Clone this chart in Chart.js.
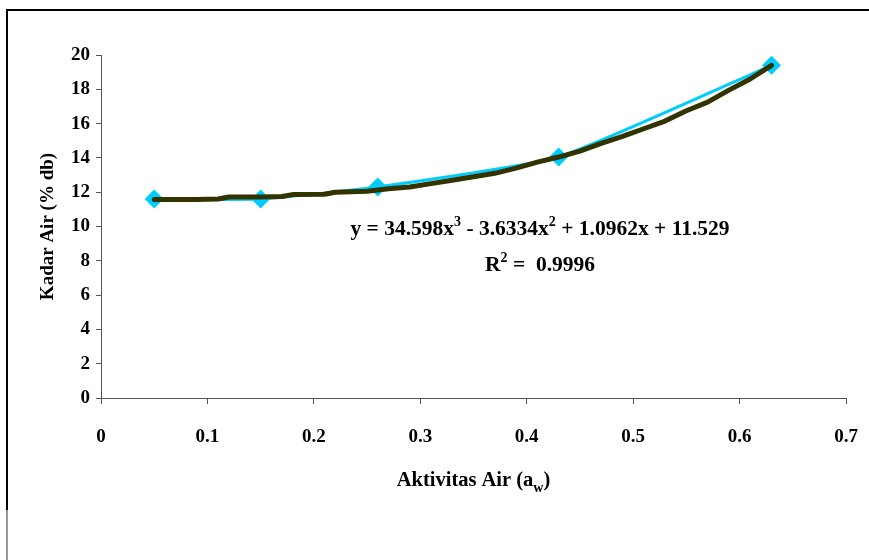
<!DOCTYPE html>
<html>
<head>
<meta charset="utf-8">
<script src="https://cdn.jsdelivr.net/npm/chart.js@4"></script>
<style>
  html, body { margin: 0; padding: 0; background: #fff; }
  #wrap { width: 869px; height: 560px; }
</style>
</head>
<body>
<div id="wrap"><canvas id="isoChart" width="869" height="560"></canvas></div>
<script>
// measured points (water activity vs moisture content)
var aw = [0.05, 0.15, 0.26, 0.43, 0.63];
var kadarAir = [11.6, 11.6, 12.3, 14.05, 19.4];

// polynomial trendline
var trendX = [0.05, 0.07, 0.09, 0.11, 0.12, 0.15, 0.17, 0.18, 0.21, 0.22, 0.25, 0.27, 0.29, 0.31, 0.33,
              0.35, 0.37, 0.39, 0.41, 0.43, 0.45, 0.47, 0.49, 0.51, 0.53, 0.55, 0.57, 0.59, 0.61, 0.63];
var trendY = [11.58, 11.58, 11.58, 11.6, 11.72, 11.72, 11.75, 11.86, 11.88, 12.0, 12.05, 12.2, 12.3, 12.5, 12.7,
              12.9, 13.1, 13.4, 13.75, 14.05, 14.4, 14.85, 15.25, 15.7, 16.15, 16.75, 17.25, 17.95, 18.6, 19.4];

var xTicks = [0, 0.1, 0.2, 0.3, 0.4, 0.5, 0.6, 0.7];
var yTicks = [0, 2, 4, 6, 8, 10, 12, 14, 16, 18, 20];

var FONT = "'Liberation Serif', 'Times New Roman', serif";

function pts(xs, ys) {
    var out = [];
    for (var i = 0; i < xs.length; i++) out.push({x: xs[i], y: ys[i]});
    return out;
}

// outer frame (only top and left edges visible in the original)
var framePlugin = {
    id: 'frame',
    beforeDraw: function(chart) {
        var c = chart.ctx;
        c.save();
        c.strokeStyle = '#000';
        c.lineWidth = 2;
        c.beginPath();
        c.moveTo(869, 10);
        c.lineTo(7, 10);
        c.lineTo(7, 510);
        c.stroke();
        c.strokeStyle = '#999';
        c.beginPath();
        c.moveTo(7, 510);
        c.lineTo(7, 560);
        c.stroke();
        c.restore();
    }
};

// draw a run of text pieces, some raised or lowered
function drawRun(c, parts, cx, cy) {
    var w = 0;
    parts.forEach(function(p) {
        c.font = 'bold ' + p.size + 'px ' + FONT;
        p.w = c.measureText(p.t).width;
        w += p.w;
    });
    var x = cx - w / 2;
    parts.forEach(function(p) {
        c.font = 'bold ' + p.size + 'px ' + FONT;
        c.fillText(p.t, x, cy + (p.dy || 0));
        x += p.w;
    });
}

var textPlugin = {
    id: 'texts',
    afterDraw: function(chart) {
        var c = chart.ctx;
        var a = chart.chartArea;
        c.save();
        c.fillStyle = '#000';
        c.textAlign = 'left';
        c.textBaseline = 'middle';
        // x axis title with subscript
        drawRun(c, [
            {t: 'Aktivitas Air (a', size: 20.5},
            {t: 'w', size: 14, dy: 7},
            {t: ')', size: 20.5}
        ], (a.left + a.right) / 2, 481);
        // trendline equation
        var ex = 540;
        drawRun(c, [
            {t: 'y = 34.598x', size: 21.5},
            {t: '3', size: 14, dy: -7},
            {t: ' - 3.6334x', size: 21.5},
            {t: '2', size: 14, dy: -7},
            {t: ' + 1.0962x + 11.529', size: 21.5}
        ], ex, 229);
        drawRun(c, [
            {t: 'R', size: 21.5},
            {t: '2', size: 14, dy: -7},
            {t: ' =  0.9996', size: 21.5}
        ], ex, 265);
        c.restore();
    }
};

var ctx = document.getElementById('isoChart').getContext('2d');
var isoChart = new Chart(ctx, {
    type: 'scatter',
    data: {
        datasets: [{
            label: 'Trendline',
            data: pts(trendX, trendY),
            showLine: true,
            borderColor: '#333300',
            borderWidth: 5,
            pointRadius: 0,
            borderCapStyle: 'round',
            borderJoinStyle: 'round',
            tension: 0,
            order: 0
        }, {
            label: 'Kadar Air',
            data: pts(aw, kadarAir),
            showLine: true,
            borderColor: '#00CCFF',
            borderWidth: 3,
            tension: 0.15,
            pointStyle: 'rectRot',
            pointRadius: 9.5,
            pointBackgroundColor: '#00CCFF',
            pointBorderColor: '#00CCFF',
            pointBorderWidth: 0,
            order: 1
        }]
    },
    options: {
        responsive: false,
        animation: false,
        layout: {
            padding: {left: 32.6, right: 23, top: 55, bottom: 0}
        },
        plugins: {
            legend: {display: false},
            tooltip: {enabled: false}
        },
        scales: {
            x: {
                type: 'linear',
                min: 0,
                max: 0.7,
                afterFit: function(s) {
                    s.height = 162;
                    s.paddingLeft = 0;
                    s.paddingRight = 0;
                },
                afterBuildTicks: function(s) {
                    s.ticks = xTicks.map(function(v) { return {value: v}; });
                },
                ticks: {
                    color: '#000',
                    padding: 22,
                    font: {family: FONT, size: 19, weight: 'bold'},
                    callback: function(v) { return String(v); }
                },
                grid: {display: true, drawOnChartArea: false, drawTicks: true, tickLength: 6, color: '#555'},
                border: {display: true, color: '#555', width: 1}
            },
            y: {
                type: 'linear',
                min: 0,
                max: 20,
                afterFit: function(s) {
                    s.width = 68.4;
                    s.paddingTop = 0;
                    s.paddingBottom = 0;
                },
                afterBuildTicks: function(s) {
                    s.ticks = yTicks.map(function(v) { return {value: v}; });
                },
                ticks: {
                    color: '#000',
                    padding: 6,
                    font: {family: FONT, size: 19, weight: 'bold'}
                },
                title: {
                    display: true,
                    text: 'Kadar Air (% db)',
                    color: '#000',
                    font: {family: FONT, size: 19, weight: 'bold'}
                },
                grid: {display: true, drawOnChartArea: false, drawTicks: true, tickLength: 5, color: '#555'},
                border: {display: true, color: '#555', width: 1}
            }
        }
    },
    plugins: [framePlugin, textPlugin]
});
</script>
</body>
</html>
